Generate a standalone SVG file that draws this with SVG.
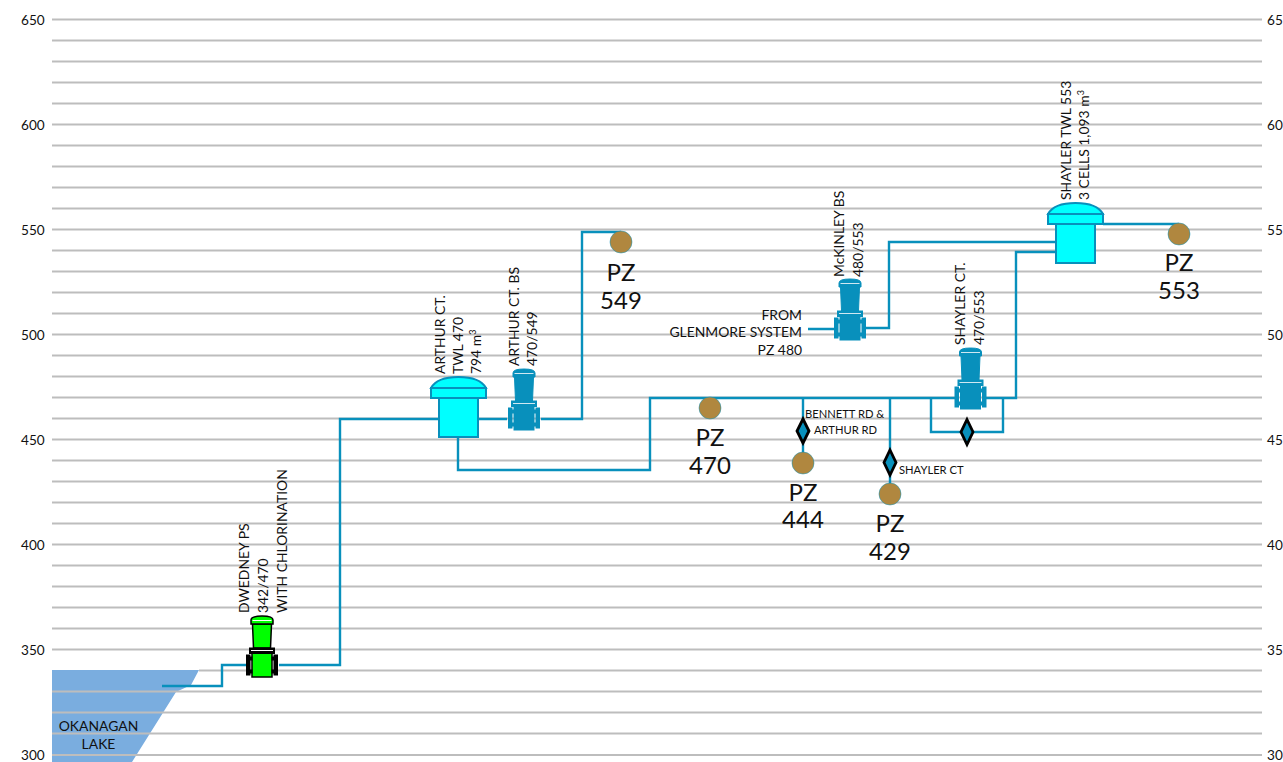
<svg xmlns="http://www.w3.org/2000/svg" width="1283" height="762" viewBox="0 0 1283 762">
<style>
text{font-family:"Lato","Liberation Sans",sans-serif;fill:#111}
.ax{font-size:13.6px}
.lb{font-size:13.9px}
.sm{font-size:11.2px}
.pz{font-size:24px;text-anchor:middle}
.grid line{stroke:#bdbdbd;stroke-width:2}
.pipe{fill:none;stroke:#0890bc;stroke-width:2.4}
.pzc{fill:#b0873f;stroke:#0890bc;stroke-width:.5}
.dia{fill:#0890bc;stroke:#000;stroke-width:2.8}
.tank{fill:#00ffff;stroke:#0890bc;stroke-width:2}
.blue{color:#0890bc;--e:#0890bc;--w:1;--f:#0890bc;--h:#cfe8f2}
.green{color:#00ff00;--e:#000;--w:1.5;--f:#000;--h:#fff}
.pm{fill:currentColor;stroke:var(--e);stroke-width:var(--w)}
.pd{fill:var(--f);stroke:var(--e);stroke-width:1}
.hl{fill:none;stroke:var(--h);stroke-width:1}
</style>
<defs>
<g id="pump">
<path class="pm" d="M-9.500 8 L-8.500 32 H8.500 L9.500 8Z"/>
<path class="pm" d="M-11 8 V4 Q-11 0 0 0 Q11 0 11 4 V8Z"/>
<path class="hl" d="M-9.500 4.500H9.500"/>
<rect class="pm" x="-10" y="37" width="20" height="24"/>
<rect class="pd" x="-12.500" y="32" width="25" height="5.500"/>
<path class="hl" d="M-11 34.500H11"/>
<rect class="pd" x="-15.500" y="39" width="3.500" height="20"/>
<rect class="pd" x="12" y="39" width="3.500" height="20"/>
<rect class="pd" x="-12" y="41" width="2" height="3"/>
<rect class="pd" x="-12" y="54" width="2" height="3"/>
<rect class="pd" x="10" y="41" width="2" height="3"/>
<rect class="pd" x="10" y="54" width="2" height="3"/>
</g>
</defs>
<polygon points="52,670 199,670 191,685 176,692 132,762 52,762" fill="#7aaddf"/>
<g class="grid">
<line x1="52" x2="1262" y1="19.500" y2="19.500"/><line x1="52" x2="1262" y1="40.500" y2="40.500"/><line x1="52" x2="1262" y1="61.500" y2="61.500"/><line x1="52" x2="1262" y1="82.500" y2="82.500"/><line x1="52" x2="1262" y1="103.500" y2="103.500"/><line x1="52" x2="1262" y1="124.500" y2="124.500"/><line x1="52" x2="1262" y1="145.500" y2="145.500"/><line x1="52" x2="1262" y1="166.500" y2="166.500"/><line x1="52" x2="1262" y1="187.500" y2="187.500"/><line x1="52" x2="1262" y1="208.500" y2="208.500"/><line x1="52" x2="1262" y1="229.500" y2="229.500"/><line x1="52" x2="1262" y1="250.500" y2="250.500"/><line x1="52" x2="1262" y1="271.500" y2="271.500"/><line x1="52" x2="1262" y1="292.500" y2="292.500"/><line x1="52" x2="1262" y1="313.500" y2="313.500"/><line x1="52" x2="1262" y1="334.500" y2="334.500"/><line x1="52" x2="1262" y1="355.500" y2="355.500"/><line x1="52" x2="1262" y1="376.500" y2="376.500"/><line x1="52" x2="1262" y1="397.500" y2="397.500"/><line x1="52" x2="1262" y1="418.500" y2="418.500"/><line x1="52" x2="1262" y1="439.500" y2="439.500"/><line x1="52" x2="1262" y1="460.500" y2="460.500"/><line x1="52" x2="1262" y1="481.500" y2="481.500"/><line x1="52" x2="1262" y1="502.500" y2="502.500"/><line x1="52" x2="1262" y1="523.500" y2="523.500"/><line x1="52" x2="1262" y1="544.500" y2="544.500"/><line x1="52" x2="1262" y1="565.500" y2="565.500"/><line x1="52" x2="1262" y1="586.500" y2="586.500"/><line x1="52" x2="1262" y1="607.500" y2="607.500"/><line x1="52" x2="1262" y1="628.500" y2="628.500"/><line x1="52" x2="1262" y1="649.500" y2="649.500"/><line x1="199" x2="1262" y1="670.500" y2="670.500"/><line x1="52" x2="1262" y1="691.500" y2="691.500"/><line x1="52" x2="1262" y1="712.500" y2="712.500"/><line x1="52" x2="1262" y1="733.500" y2="733.500"/><line x1="52" x2="1262" y1="755" y2="755"/>
</g>
<g id="axis">
<text class="ax" x="21" y="25">650</text><text class="ax" x="21" y="130">600</text><text class="ax" x="21" y="235">550</text><text class="ax" x="21" y="340">500</text><text class="ax" x="21" y="445">450</text><text class="ax" x="21" y="550">400</text><text class="ax" x="21" y="655">350</text><text class="ax" x="21" y="760">300</text>
<text class="ax" x="1267" y="25">65</text><text class="ax" x="1267" y="130">60</text><text class="ax" x="1267" y="235">55</text><text class="ax" x="1267" y="340">50</text><text class="ax" x="1267" y="445">45</text><text class="ax" x="1267" y="550">40</text><text class="ax" x="1267" y="655">35</text><text class="ax" x="1267" y="760">30</text>
</g>
<g id="connectors">
<path class="pipe" d="M162 686H222V665H247M279 665H340V419H439"/>
<path class="pipe" d="M478 419H507M541 419H582V232H621"/>
<path class="pipe" d="M458 437V470H650V398H956M986 398H1016V252H1056"/>
<path class="pipe" d="M808 329H834M866 328H889V242H1056"/>
<path class="pipe" d="M1103 224H1179"/>
<path class="pipe" d="M803 398V463M890 398V494"/>
<path class="pipe" d="M931 398V432H1003V398"/>
</g>
<g id="lake"><text class="lb" x="98.500" y="731" text-anchor="middle">OKANAGAN</text><text class="lb" x="98.500" y="749" text-anchor="middle">LAKE</text></g>
<g id="dwedney" class="green"><use href="#pump" transform="translate(262,616)"/>
<text class="lb" transform="translate(249,613) rotate(-90)">DWEDNEY PS</text><text class="lb" transform="translate(268,613) rotate(-90)">342/470</text><text class="lb" transform="translate(287,613) rotate(-90)">WITH CHLORINATION</text></g>
<g id="arthur-twl"><path class="tank" d="M431 388 Q437 377 458.500 377 Q480 377 486 388Z"/><rect class="tank" x="431" y="388" width="55" height="10"/><rect class="tank" x="439" y="398" width="39" height="39"/>
<text class="lb" transform="translate(445,374) rotate(-90)">ARTHUR CT.</text><text class="lb" transform="translate(463,374) rotate(-90)">TWL 470</text><text class="lb" transform="translate(481,374) rotate(-90)">794 m<tspan font-size="9" dy="-5">3</tspan></text></g>
<g id="arthur-bs" class="blue"><use href="#pump" transform="translate(524,369)"/>
<text class="lb" transform="translate(519,366) rotate(-90)">ARTHUR CT. BS</text><text class="lb" transform="translate(537,366) rotate(-90)">470/549</text></g>
<g id="mckinley" class="blue"><use href="#pump" transform="translate(850,279)"/>
<text class="lb" transform="translate(844,277) rotate(-90)">McKINLEY BS</text><text class="lb" transform="translate(863,277) rotate(-90)">480/553</text>
<text class="lb" text-anchor="end" x="802" y="320">FROM</text><text class="lb" text-anchor="end" x="802" y="337">GLENMORE SYSTEM</text><text class="lb" text-anchor="end" x="802" y="355">PZ 480</text></g>
<g id="shayler-bs" class="blue"><use href="#pump" transform="translate(970.500,348)"/>
<text class="lb" transform="translate(965,345) rotate(-90)">SHAYLER CT.</text><text class="lb" transform="translate(984,345) rotate(-90)">470/553</text></g>
<g id="shayler-twl"><path class="tank" d="M1048 214 Q1054 203 1075.500 203 Q1097 203 1103 214Z"/><rect class="tank" x="1048" y="214" width="55" height="10"/><rect class="tank" x="1056" y="224" width="39" height="39"/>
<text class="lb" transform="translate(1071,200) rotate(-90)">SHAYLER TWL 553</text><text class="lb" transform="translate(1089,200) rotate(-90)">3 CELLS 1,093 m<tspan font-size="9" dy="-5">3</tspan></text></g>
<g id="pz549"><circle class="pzc" cx="621" cy="242" r="11"/><text class="pz" x="621" y="281">PZ</text><text class="pz" x="621" y="309">549</text></g>
<g id="pz553"><circle class="pzc" cx="1179" cy="234" r="11"/><text class="pz" x="1179" y="271">PZ</text><text class="pz" x="1179" y="299">553</text></g>
<g id="pz470"><circle class="pzc" cx="710" cy="408" r="11"/><text class="pz" x="710" y="446">PZ</text><text class="pz" x="710" y="474">470</text></g>
<g id="pz444"><circle class="pzc" cx="803" cy="463" r="11"/><text class="pz" x="803" y="501">PZ</text><text class="pz" x="803" y="528">444</text></g>
<g id="pz429"><circle class="pzc" cx="890" cy="494" r="11"/><text class="pz" x="890" y="532">PZ</text><text class="pz" x="890" y="560">429</text></g>
<g id="valve-bennett"><polygon class="dia" points="803,419 809,431 803,443 797,431"/><text class="sm" x="805" y="418">BENNETT RD &amp;</text><text class="sm" x="814" y="434">ARTHUR RD</text></g>
<g id="valve-shayler"><polygon class="dia" points="890,450 896,462.500 890,475 884,462.500"/><text class="sm" x="899" y="474">SHAYLER CT</text></g>
<g id="valve-bypass"><polygon class="dia" points="967,419.500 973,432 967,444.500 961,432"/></g>
</svg>
